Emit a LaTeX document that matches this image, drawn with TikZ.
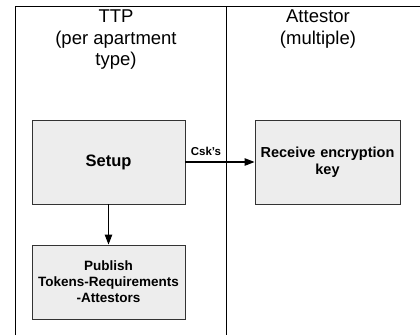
\documentclass[tikz,border=0pt]{standalone}
\usepackage{fontspec}
\setmainfont{Liberation Sans}
\usetikzlibrary{arrows.meta}
\begin{document}
\begin{tikzpicture}[x=1pt,y=-1pt,
  box/.style={draw=black!80,fill=black!7,line width=0.9pt,inner sep=0pt,align=center,font=\bfseries\fontsize{13.5}{16}\selectfont},
  lane/.style={line width=1pt,draw=black},
  head/.style={align=center,font=\fontsize{18.5}{21.5}\selectfont,inner sep=0pt,anchor=north},
  arr/.style={line width=1.1pt,-{Triangle[length=10pt,width=7.5pt]}}]
\useasboundingbox (0,0) rectangle (420,335);
\coordinate (tl) at (15,6);
\coordinate (tr) at (420,6);
\coordinate (bl) at (15,335);
\coordinate (dt) at (226,6);
\coordinate (db) at (226,335);
\draw[lane] (bl) -- (tl) -- (tr);
\draw[lane] (dt) -- (db);
\node[head] (ttp) at (116,10) {TTP\\(per apartment\\type)};
\node[head] (att) at (318,10) {Attestor\\(multiple)};
\node[box,minimum width=153pt,minimum height=84pt,font=\bfseries\fontsize{16.5}{19}\selectfont] (setup) at (108.5,162) {Setup};
\node[box,minimum width=153pt,minimum height=74pt] (pub) at (108.5,282) {Publish\\Tokens-Requirements\\-Attestors};
\node[box,minimum width=145pt,minimum height=84pt,text width=145pt,font=\bfseries\fontsize{14.5}{16.5}\selectfont] (recv) at (327.5,162) {Receive encryption\\key\\[16pt]};
\draw[arr] (setup.east) -- (recv.west);
\node[font=\bfseries\fontsize{11.5}{13}\selectfont,inner sep=0pt,anchor=base] (csk) at (206,155) {Csk’s};
\draw[arr] (setup.south) -- (pub.north);
\end{tikzpicture}
\end{document}
